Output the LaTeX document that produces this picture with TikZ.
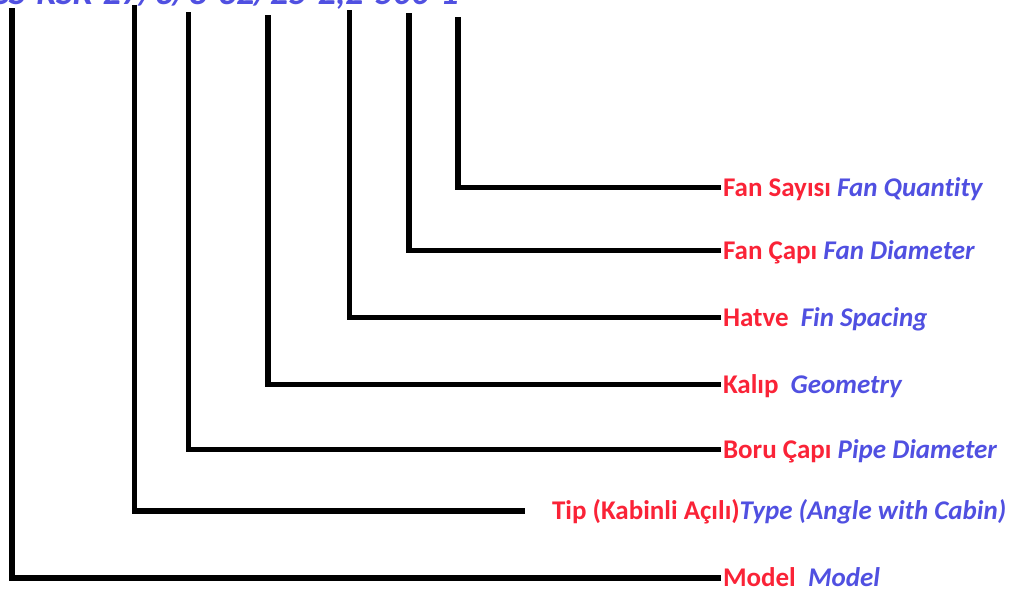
\documentclass[tikz,border=0pt]{standalone}
\usepackage{fontspec}
\setmainfont{Carlito}[Ligatures=NoCommon]
\definecolor{lblred}{RGB}{250,35,55}
\definecolor{lblblue}{RGB}{80,80,225}
\begin{document}
\begin{tikzpicture}[x=1pt,y=-1pt,
  lead/.style={line width=5.5pt,draw=black,line cap=butt,line join=miter},
  lbl/.style={anchor=base west,inner sep=0pt,outer sep=0pt,text depth=0pt,font=\fontsize{27}{30}\selectfont\bfseries},
]
\useasboundingbox (0,0) rectangle (1016,590);
% clipped code at top
\node[anchor=base west,inner sep=0pt,text=lblblue,font=\fontsize{36}{40}\selectfont\bfseries\itshape] (code) at (-10,4) {CS-KSK-27/3/8-32/25-2,2-500-1};
% labels
\node[lbl] (fq) at (723,196) {\textcolor{lblred}{Fan Sayısı} \textcolor{lblblue}{\itshape Fan Quantity}};
\node[lbl] (fd) at (723,259) {\textcolor{lblred}{Fan Çapı} \textcolor{lblblue}{\itshape Fan Diameter}};
\node[lbl] (fs) at (723,326) {\textcolor{lblred}{Hatve}\ \ \textcolor{lblblue}{\itshape Fin Spacing}};
\node[lbl] (ge) at (723,393) {\textcolor{lblred}{Kalıp}\ \ \textcolor{lblblue}{\itshape Geometry}};
\node[lbl] (pd) at (723,458) {\textcolor{lblred}{Boru Çapı} \textcolor{lblblue}{\itshape Pipe Diameter}};
\node[lbl] (ty) at (552,519.5) {\textcolor{lblred}{Tip (Kabinli Açılı)}\textcolor{lblblue}{\itshape Type (Angle with Cabin)}};
\node[lbl] (mo) at (723,586) {\textcolor{lblred}{Model}\ \ \textcolor{lblblue}{\itshape Model}};
% leader coordinates
\coordinate (tfq) at (458,17);
\coordinate (tfd) at (409,13);
\coordinate (tfs) at (349.5,10);
\coordinate (tge) at (268,15);
\coordinate (tpd) at (188.5,12);
\coordinate (tty) at (134.5,4.5);
\coordinate (tmo) at (12,8);
\coordinate (efq) at (721,187.5);
\coordinate (efd) at (721,250.5);
\coordinate (efs) at (721,317.5);
\coordinate (ege) at (721,384.5);
\coordinate (epd) at (721,449.5);
\coordinate (ety) at (525,511);
\coordinate (emo) at (721,578);
\draw[lead] (tfq) |- (efq);
\draw[lead] (tfd) |- (efd);
\draw[lead] (tfs) |- (efs);
\draw[lead] (tge) |- (ege);
\draw[lead] (tpd) |- (epd);
\draw[lead] (tty) |- (ety);
\draw[lead] (tmo) |- (emo);
\end{tikzpicture}
\end{document}
